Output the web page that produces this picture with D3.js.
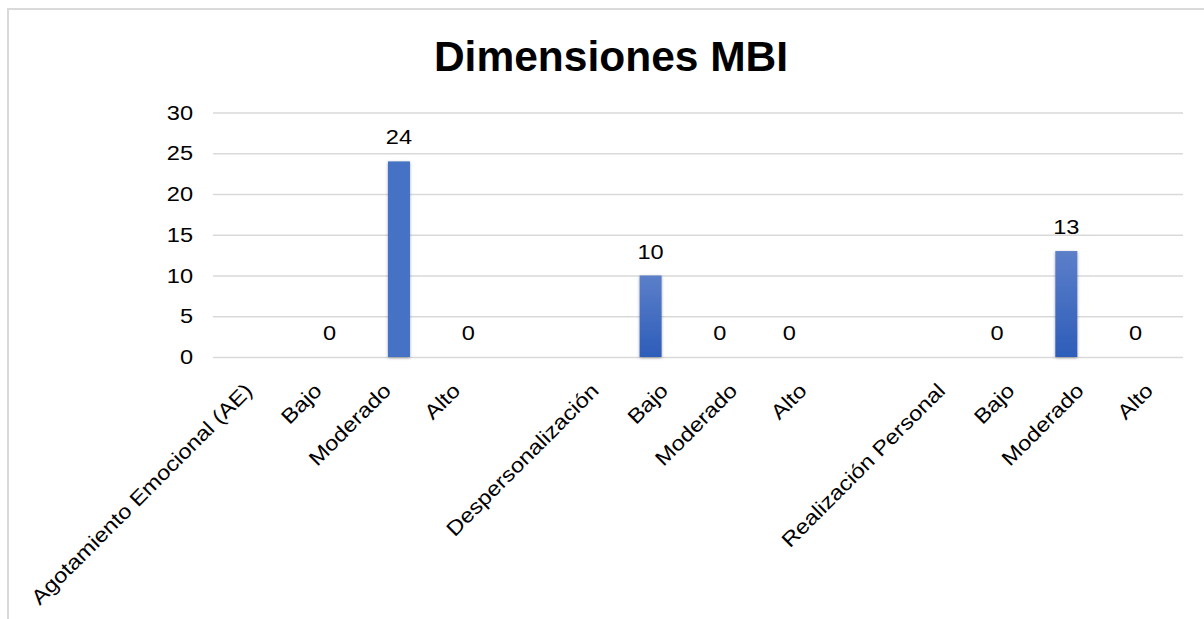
<!DOCTYPE html>
<html>
<head>
<meta charset="utf-8">
<script src="https://cdn.jsdelivr.net/npm/d3@7/dist/d3.min.js"></script>
<style>
  html, body { margin: 0; padding: 0; background: #fff; }
  svg { display: block; }
  text { font-family: "Liberation Sans", Arial, sans-serif; fill: #000; }
</style>
</head>
<body>
<svg id="chart" width="1204" height="619"></svg>
<script>
// Category labels along the x axis (two blank spacer slots between groups)
const categories = [
  "Agotamiento Emocional (AE)", "Bajo", "Moderado", "Alto", "",
  "Despersonalización", "Bajo", "Moderado", "Alto", "",
  "Realización Personal", "Bajo", "Moderado", "Alto"
];
// Two series sharing the category axis; null = no value in that slot
const seriesNames = ["Serie 1", "Serie 2"];
const serie1 = [null, null, null, null, null, null, 10, 0, 0, null, null, 0, 13, 0];
const serie2 = [null, 0, 24, 0, null, null, null, null, null, null, null, null, null, null];
const yTicks = [0, 5, 10, 15, 20, 25, 30];
const title = "Dimensiones MBI";

const svg = d3.select("#chart");
const plot = { left: 213, right: 1183, top: 112.5, bottom: 357 };
const labelSize = "20.5px";
const widen = "scale(1.15,1)"; // wide-set label lettering

// Chart frame
svg.append("rect")
  .attr("x", 8).attr("y", 9).attr("width", 1210).attr("height", 640)
  .attr("fill", "#fff").attr("stroke", "#d9d9d9").attr("stroke-width", 2);

// Title
svg.append("text")
  .attr("x", 611).attr("y", 70.5)
  .attr("text-anchor", "middle")
  .style("font-size", "42.5px").style("font-weight", "bold")
  .text(title);

const x = d3.scaleBand()
  .domain(d3.range(categories.length))
  .range([plot.left, plot.right])
  .padding(0);

const clusterHalf = 23.75;
const xs = d3.scaleBand()
  .domain(seriesNames)
  .range([-clusterHalf, clusterHalf])
  .paddingInner(0.137);

const y = d3.scaleLinear().domain([0, 30]).range([plot.bottom, plot.top]);

const defs = svg.append("defs");
const grad = defs.append("linearGradient")
  .attr("id", "barGrad").attr("x1", 0).attr("y1", 0).attr("x2", 0).attr("y2", 1);
grad.append("stop").attr("offset", "0%").attr("stop-color", "#5c7fc9");
grad.append("stop").attr("offset", "100%").attr("stop-color", "#2d5db9");

const shadow = defs.append("filter").attr("id", "barShadow")
  .attr("x", "-40%").attr("y", "-10%").attr("width", "180%").attr("height", "125%");
shadow.append("feDropShadow")
  .attr("dx", 0).attr("dy", 1).attr("stdDeviation", 1.6)
  .attr("flood-color", "#000").attr("flood-opacity", 0.35);

// Horizontal gridlines + y axis labels
const yAxis = d3.axisLeft(y)
  .tickValues(yTicks)
  .tickSize(-(plot.right - plot.left))
  .tickPadding(20);

const gy = svg.append("g")
  .attr("transform", `translate(${plot.left},0)`)
  .call(yAxis);
gy.select(".domain").remove();
gy.selectAll(".tick line").attr("stroke", "#d9d9d9").attr("stroke-width", 1.6);
gy.selectAll(".tick text")
  .style("font-size", labelSize)
  .style("font-family", "'Liberation Sans', Arial, sans-serif")
  .attr("fill", "#000")
  .attr("x", 0)
  .attr("transform", `translate(-20,0) ${widen}`);

// x axis category labels, rotated
const xAxis = d3.axisBottom(x)
  .tickFormat(i => categories[i])
  .tickSize(0);
const gx = svg.append("g")
  .attr("transform", `translate(0,${plot.bottom})`)
  .call(xAxis);
gx.select(".domain").remove();
gx.selectAll(".tick text")
  .style("font-size", labelSize)
  .style("font-family", "'Liberation Sans', Arial, sans-serif")
  .attr("fill", "#000")
  .attr("text-anchor", "end")
  .attr("x", 0).attr("y", 0).attr("dy", 0)
  .attr("transform", `translate(6,35) rotate(-45) ${widen}`);

// Bars and value labels for each series
const seriesData = [
  { name: seriesNames[0], values: serie1, fill: "url(#barGrad)" },
  { name: seriesNames[1], values: serie2, fill: "#4472c4" }
];

seriesData.forEach(s => {
  const pts = s.values
    .map((v, i) => ({ i, v }))
    .filter(d => d.v !== null);
  const cx = d => x(d.i) + x.bandwidth() / 2 + xs(s.name);

  svg.append("g")
    .selectAll("rect")
    .data(pts.filter(d => d.v > 0))
    .join("rect")
    .attr("x", cx)
    .attr("y", d => y(d.v))
    .attr("width", xs.bandwidth())
    .attr("height", d => y(0) - y(d.v))
    .attr("fill", s.fill)
    .attr("filter", "url(#barShadow)");

  svg.append("g")
    .selectAll("text")
    .data(pts)
    .join("text")
    .attr("transform", d => `translate(${cx(d) + xs.bandwidth() / 2},${y(d.v) - 17}) ${widen}`)
    .attr("text-anchor", "middle")
    .style("font-size", labelSize)
    .text(d => d.v);
});
</script>
</body>
</html>
